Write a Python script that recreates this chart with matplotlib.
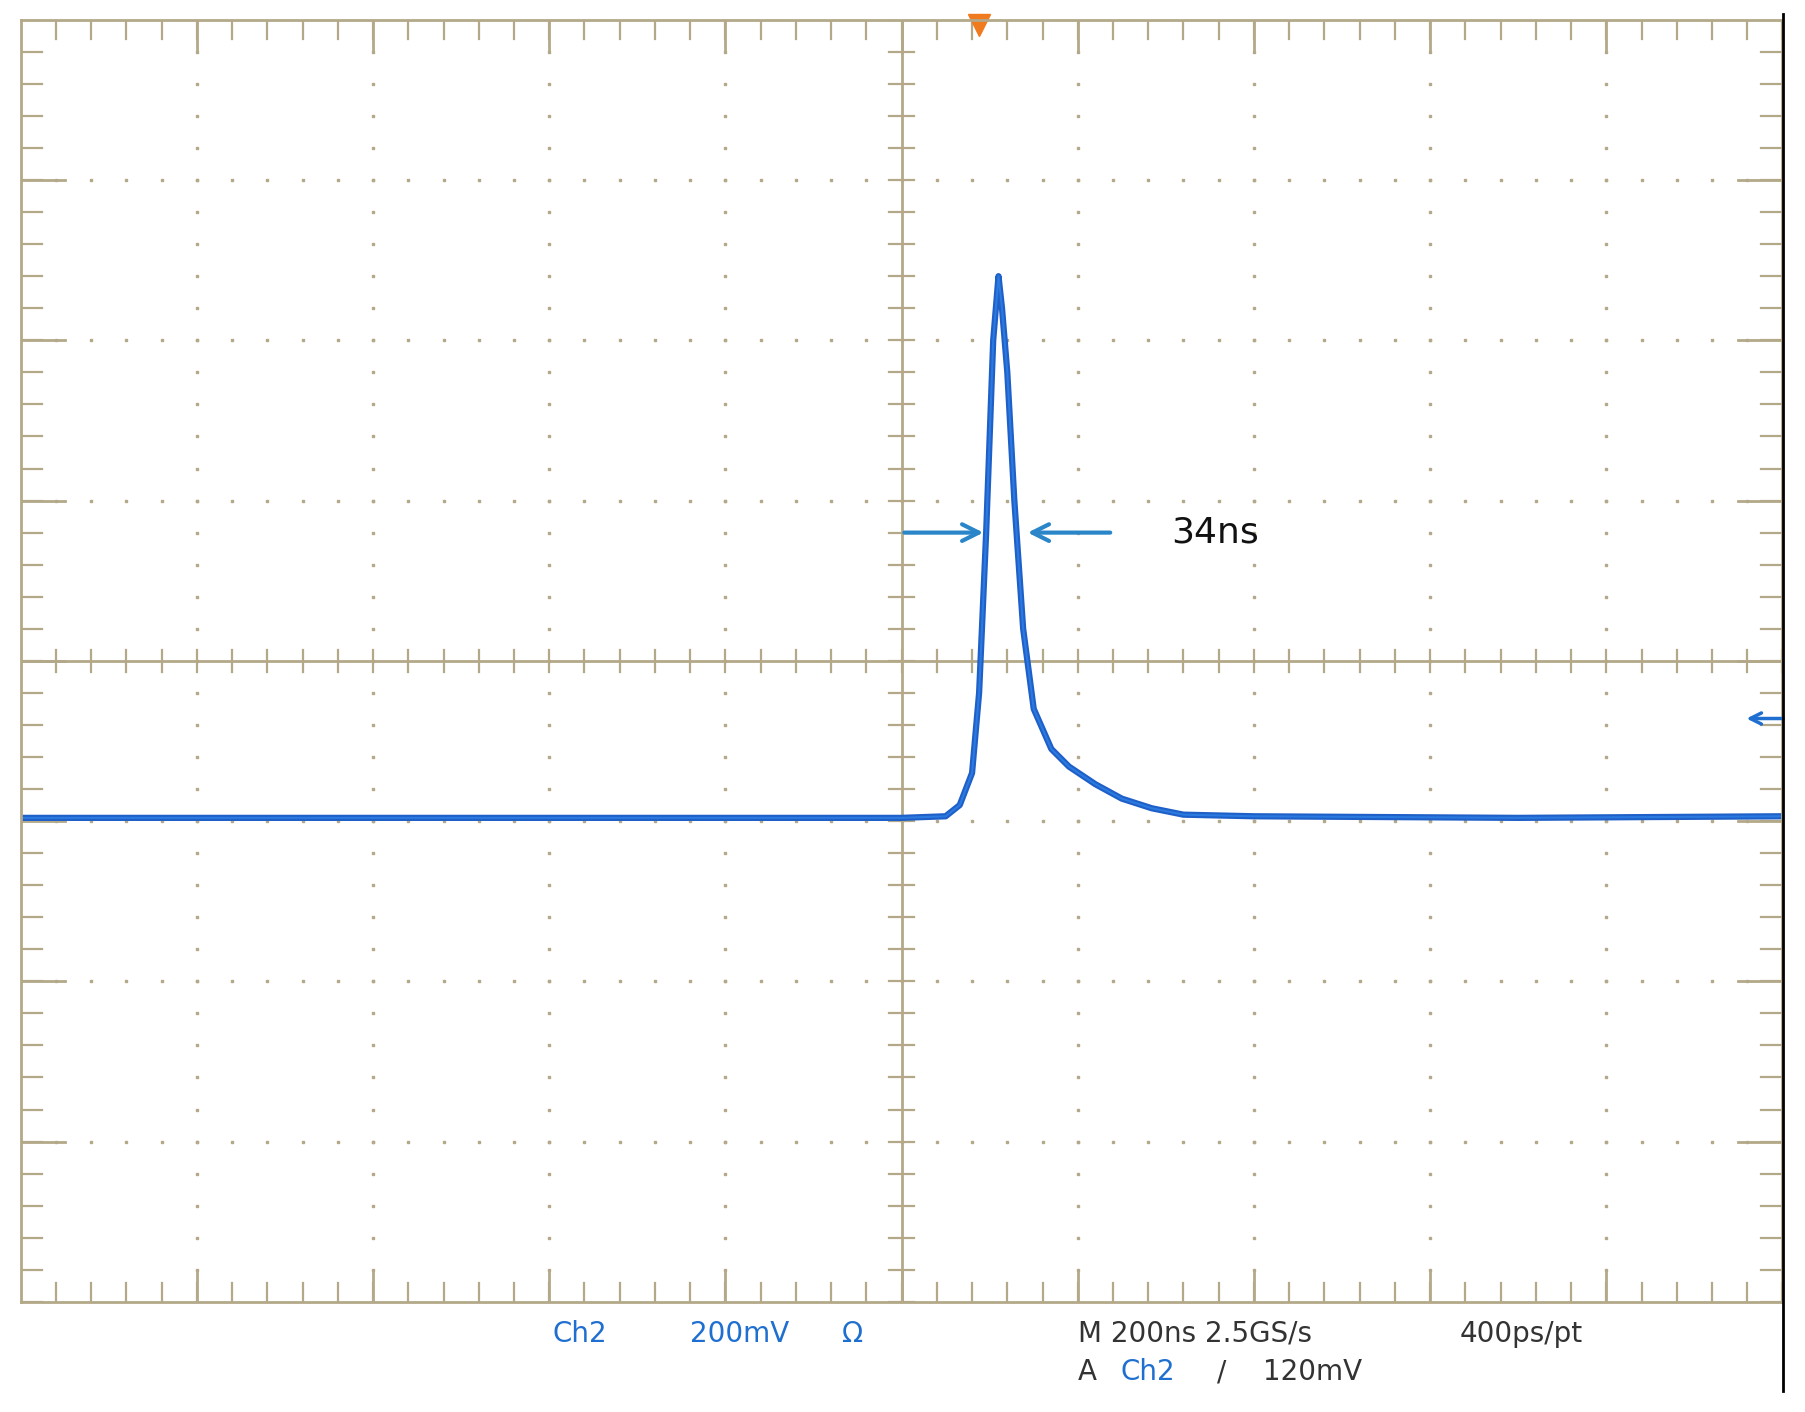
import matplotlib.pyplot as plt
import numpy as np

# waveform (x, y in screen divisions; centre = 0,0)
wave_x = [-5.0, -2.0, 0.0, 0.25, 0.33, 0.40, 0.44, 0.48, 0.52, 0.55, 0.57, 0.60, 0.64, 0.69, 0.75, 0.85, 0.95, 1.10, 1.25, 1.42, 1.60, 2.0, 3.5, 5.0]
wave_y = [-0.98, -0.98, -0.98, -0.97, -0.90, -0.70, -0.20, 0.80, 2.00, 2.40, 2.20, 1.80, 1.00, 0.20, -0.30, -0.55, -0.66, -0.77, -0.86, -0.92, -0.96, -0.97, -0.98, -0.97]
pulse_label = "34ns"
status_top = [("Ch2", -1.98, "#1f6fd0"), ("200mV", -1.20, "#1f6fd0"), ("Ω", -0.34, "#1f6fd0"),
              ("M 200ns 2.5GS/s", 1.00, "#333333"), ("400ps/pt", 3.17, "#333333")]
status_bot = [("A", 1.00, "#333333"), ("Ch2", 1.24, "#1f6fd0"), ("/", 1.79, "#333333"), ("120mV", 2.05, "#333333")]

grid_c = "#b3a888"
fig = plt.figure(figsize=(18.05, 14.12), dpi=100)
ax = fig.add_axes([0.0115, 0.078, 0.976, 0.908])
ax.set_xlim(-5, 5)
ax.set_ylim(-4, 4)
ax.set_xticks([]); ax.set_yticks([])
for s in ax.spines.values():
    s.set_color(grid_c); s.set_linewidth(2)

# dotted grid
sub = np.arange(-5, 5.01, 0.2)
subv = np.arange(-4, 4.01, 0.2)
for gx in range(-4, 5):
    if gx != 0:
        ax.plot([gx] * len(subv), subv, ls="none", marker="s", ms=1.8, color=grid_c)
for gy in range(-3, 4):
    if gy != 0:
        ax.plot(sub, [gy] * len(sub), ls="none", marker="s", ms=1.8, color=grid_c)
# centre axes with ticks
ax.axhline(0, color=grid_c, lw=2)
ax.axvline(0, color=grid_c, lw=2)
for t in sub:
    ax.plot([t, t], [-0.07, 0.07], color=grid_c, lw=1.6)
    ax.plot([t, t], [-4, -3.88], color=grid_c, lw=1.6)
    ax.plot([t, t], [4, 3.88], color=grid_c, lw=1.6)
for t in subv:
    ax.plot([-0.07, 0.07], [t, t], color=grid_c, lw=1.6)
    ax.plot([-5, -4.88], [t, t], color=grid_c, lw=1.6)
    ax.plot([5, 4.88], [t, t], color=grid_c, lw=1.6)
for gx in range(-4, 5):
    ax.plot([gx, gx], [-4, -3.8], color=grid_c, lw=2)
    ax.plot([gx, gx], [4, 3.8], color=grid_c, lw=2)
for gy in range(-3, 4):
    ax.plot([-5, -4.75], [gy, gy], color=grid_c, lw=2)
    ax.plot([5, 4.75], [gy, gy], color=grid_c, lw=2)

ax.plot(wave_x, wave_y, color="#1f5fc8", lw=4.5, solid_joinstyle="round")
ax.plot(wave_x, wave_y, color="#2a7ae0", lw=1.5)

# width annotation
ay = 0.8
ax.annotate("", xy=(0.48, ay), xytext=(0.0, ay),
            arrowprops=dict(arrowstyle="->", color="#2a86c8", lw=3, mutation_scale=30))
ax.annotate("", xy=(0.70, ay), xytext=(1.20, ay),
            arrowprops=dict(arrowstyle="->", color="#2a86c8", lw=3, mutation_scale=30))
ax.text(1.53, ay, pulse_label, fontsize=26, va="center", color="#111111")

# trigger and level markers
ax.plot([0.44], [3.97], marker="v", ms=16, color="#f07a1e", clip_on=False)
ax.annotate("", xy=(4.78, -0.36), xytext=(5.02, -0.36),
            arrowprops=dict(arrowstyle="->", color="#1f6fd0", lw=2.5, mutation_scale=20))

for txt, x, c in status_top:
    ax.text(x, -4.2, txt, fontsize=20, color=c, ha="left", va="center", clip_on=False)
for txt, x, c in status_bot:
    ax.text(x, -4.44, txt, fontsize=20, color=c, ha="left", va="center", clip_on=False)

fig.add_artist(plt.Line2D([0.988, 0.988], [0.015, 0.99], color="black", lw=2))
fig.savefig("out.png")
